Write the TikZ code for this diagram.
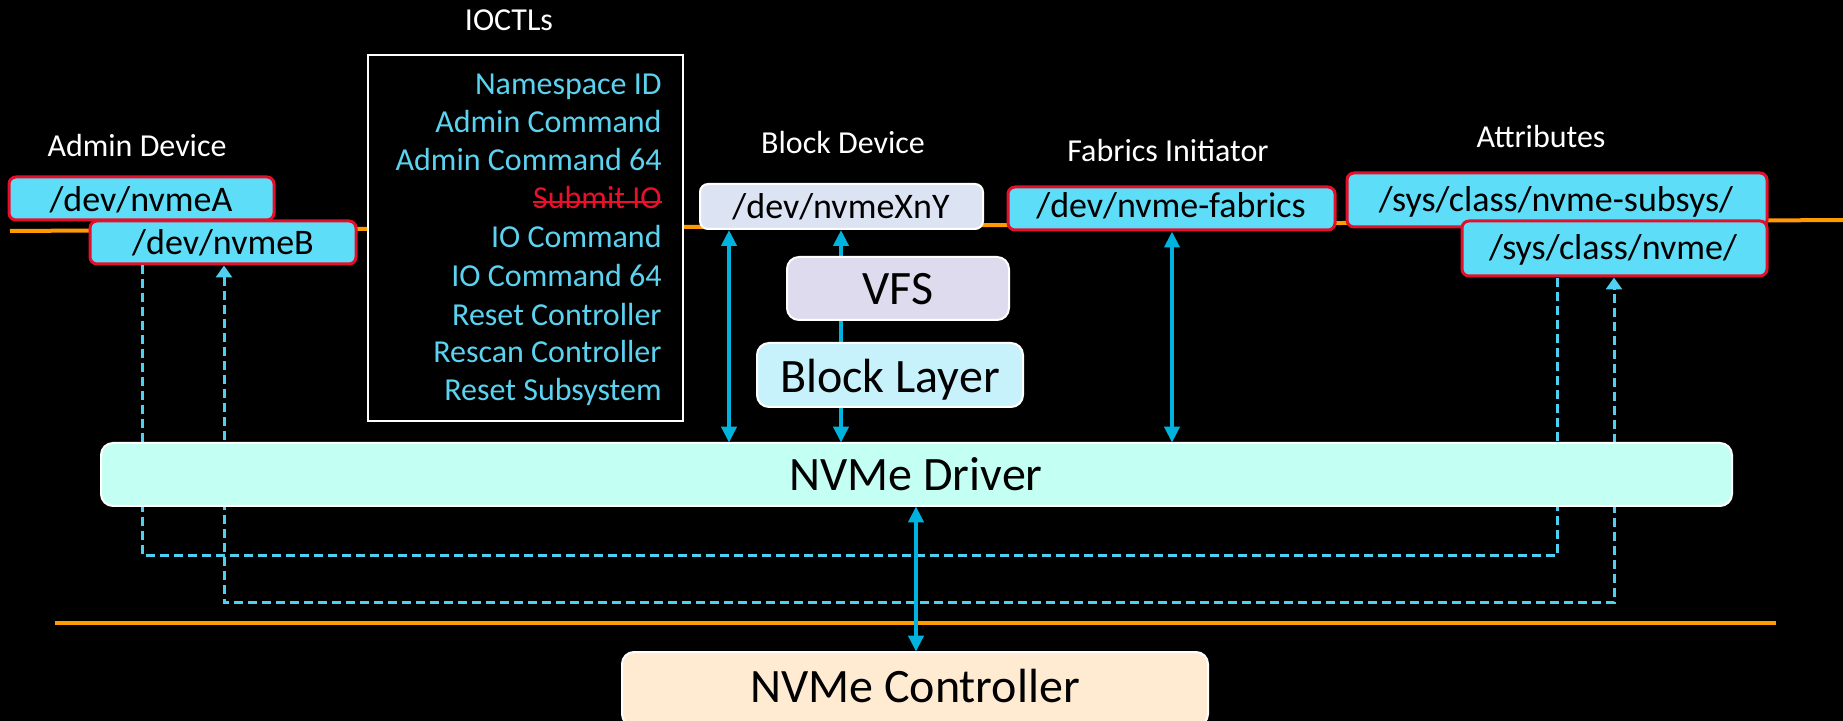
\documentclass[tikz,border=0pt]{standalone}
\usepackage{fontspec}
\setmainfont{Carlito}
\usetikzlibrary{arrows.meta,fit}
\definecolor{devfill}{HTML}{5EDDF8}
\definecolor{devred}{HTML}{E3102B}
\definecolor{ioc}{HTML}{5BD3F0}
\definecolor{strikered}{HTML}{E8102A}
\definecolor{xnyfill}{HTML}{DCE4F4}
\definecolor{vfsfill}{HTML}{DFDBEE}
\definecolor{blkfill}{HTML}{C7F1FB}
\definecolor{drvfill}{HTML}{C3FFF3}
\definecolor{ctlfill}{HTML}{FFEBD1}
\definecolor{arrblue}{HTML}{00B3DF}
\definecolor{dashc}{HTML}{4FD0F0}
\definecolor{orng}{HTML}{FF9A00}
\tikzset{
  lbl/.style={text=white, inner sep=0, font=\fontsize{16}{19}\selectfont},
  ioctl/.style={text=ioc, inner sep=0, anchor=base east, font=\fontsize{16}{19}\selectfont},
  devbox/.style={draw=devred, line width=1.5pt, fill=devfill, rounded corners=3.5pt, inner sep=0},
  devtext/.style={text=black, inner sep=0, anchor=base, font=\fontsize{18}{20}\selectfont},
  wbox/.style={draw=white, line width=1pt, rounded corners=6pt, inner sep=0},
  bigtext/.style={text=black, inner sep=0, anchor=base, font=\fontsize{24}{28}\selectfont},
  dbl/.style={{Triangle[length=8pt,width=7.5pt]}-{Triangle[length=8pt,width=7.5pt]}, line width=2pt, draw=arrblue},
  dsh/.style={draw=dashc, line width=1.5pt, dash pattern=on 4.5pt off 2.5pt},
  orline/.style={draw=orng, line width=2pt}
}
\begin{document}
\begin{tikzpicture}[x=0.5pt,y=-0.5pt]
\fill[black] (0,0) rectangle (1843,721);
\useasboundingbox (0,0) rectangle (1843,721);
\clip (0,0) rectangle (1843,721);

% orange separators
\coordinate (o1) at (10,231);
\coordinate (o2) at (1843,220);
\coordinate (o3) at (55,623);
\coordinate (o4) at (1776,623);
\draw[orline] (o1) -- (o2);
\draw[orline] (o3) -- (o4);

% labels
\node[lbl] (ioctltitle) at (509,20) {IOCTLs};
\node[lbl] (admlbl) at (137,146) {Admin Device};
\node[lbl] (blklbl) at (843,143) {Block Device};
\node[lbl] (fablbl) at (1168,151) {Fabrics Initiator};
\node[lbl] (attlbl) at (1541,137) {Attributes};

% IOCTL box
\node[draw=white, line width=1pt, fill=black, inner sep=0, fit={(368,55) (683,421)}] (iobox) {};
\node[ioctl] (i1) at (662,95) {Namespace ID};
\node[ioctl] (i2) at (662,133) {Admin Command};
\node[ioctl] (i3) at (662,171) {Admin Command 64};
\node[ioctl, text=strikered] (i4) at (662,209) {Submit IO};
\draw[strikered, line width=1pt] ([yshift=3.6pt]i4.base west) -- ([yshift=3.6pt]i4.base east);
\node[ioctl] (i5) at (662,248) {IO Command};
\node[ioctl] (i6) at (662,287) {IO Command 64};
\node[ioctl] (i7) at (662,326) {Reset Controller};
\node[ioctl] (i8) at (662,363) {Rescan Controller};
\node[ioctl] (i9) at (662,401) {Reset Subsystem};

% device nodes
\node[devbox, fit={(9,177) (274,220)}] (nva) {};
\node[devtext] (nvaT) at (141,212) {/dev/nvmeA};
\node[devbox, fit={(90,221) (356,264)}] (nvb) {};
\node[devtext] (nvbT) at (223,255) {/dev/nvmeB};
\node[wbox, fill=xnyfill, rounded corners=4pt, fit={(700,184) (983,229)}] (xny) {};
\node[devtext] (xnyT) at (841,219) {/dev/nvmeXnY};
\node[devbox, fit={(1008,187) (1335,230)}] (fab) {};
\node[devtext] (fabT) at (1171,218) {/dev/nvme-fabrics};
\node[devbox, fit={(1347,173) (1767,227)}] (sub) {};
\node[devtext] (subT) at (1556,212) {/sys/class/nvme-subsys/};
\node[devbox, fit={(1462,221) (1767,276)}] (sysn) {};
\node[devtext] (sysnT) at (1613,260) {/sys/class/nvme/};

% helper coordinates for connector columns
\coordinate (ca) at (729,0);
\coordinate (cb) at (841,0);
\coordinate (cc) at (1172,0);
\coordinate (cd) at (916,0);
\coordinate (d1a) at (142,556);
\coordinate (d1b) at (1557,556);
\coordinate (d2a) at (224,603);
\coordinate (d2b) at (1614,603);

% placeholders for the driver and controller outlines
\path node[inner sep=0, fit={(101,443) (1732,506)}] (drvpos) {};
\path node[inner sep=0, fit={(622,652) (1208,726)}] (ctlpos) {};

% dashed connections
\draw[dsh] (d1a |- nvb.south) -- (d1a) -- (d1b) -- (d1b |- sysn.south);
\draw[dsh, {Triangle[length=6pt,width=8pt]}-{Triangle[length=6pt,width=8pt]}] (d2a |- nvb.south) -- (d2a) -- (d2b) -- (d2b |- sysn.south);

% solid arrows
\draw[dbl] (ca |- xny.south) -- (ca |- drvpos.north);
\draw[dbl] (cb |- xny.south) -- (cb |- drvpos.north);
\draw[dbl] (cc |- fab.south) -- (cc |- drvpos.north);
\draw[dbl] (cd |- drvpos.south) -- (cd |- ctlpos.north);

% layer boxes
\node[wbox, fill=vfsfill, fit={(787,257) (1009,320)}] (vfs) {};
\node[bigtext] (vfsT) at (898,305) {VFS};
\node[wbox, fill=blkfill, fit={(757,343) (1023,407)}] (blk) {};
\node[bigtext] (blkT) at (890,393) {Block Layer};
\node[wbox, fill=drvfill, fit={(101,443) (1732,506)}] (drv) {};
\node[bigtext] (drvT) at (916,491) {NVMe Driver};
\node[wbox, fill=ctlfill, fit={(622,652) (1208,726)}] (ctl) {};
\node[bigtext] (ctlT) at (915,702) {NVMe Controller};
\end{tikzpicture}
\end{document}
